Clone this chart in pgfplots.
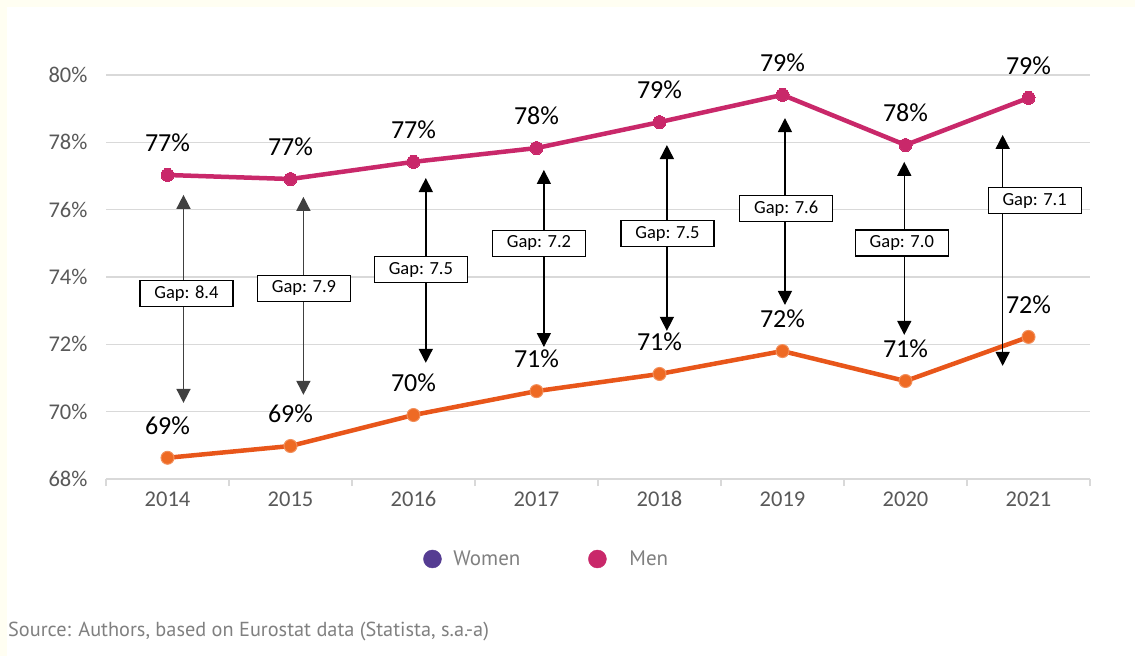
\documentclass[border=0pt]{standalone}
\usepackage{pgfplots}
\pgfplotsset{compat=1.18}
\usepackage{pgfplotstable}
\usetikzlibrary{arrows.meta}
\usepackage{fontspec}
\setmainfont{Carlito}
\newfontfamily\ptsans{PT Sans}
\definecolor{men}{HTML}{C9286A}
\definecolor{women}{HTML}{E8561A}
\definecolor{womenmk}{HTML}{EE6A24}
\definecolor{legw}{HTML}{553C92}
\definecolor{gridc}{HTML}{D9D9D9}
\definecolor{tickc}{HTML}{595959}
\definecolor{srcc}{HTML}{808080}
\definecolor{cream}{HTML}{FFFEF2}
\definecolor{darkarrow}{HTML}{404040}

\pgfplotstableread{
x men women
0 77.03 68.63
1 76.91 68.98
2 77.42 69.90
3 77.83 70.61
4 78.60 71.12
5 79.41 71.80
6 77.92 70.91
7 79.32 72.22
}\datatable

\tikzset{
  gaparrow/.style={{Triangle[width=14pt,length=14pt]}-{Triangle[width=14pt,length=14pt]}, line width=1.5pt},
  gapbox/.style={draw=black, line width=1.2pt, fill=white, minimum width=93pt, minimum height=26pt, inner sep=0pt, font=\fontsize{18.5}{20}\selectfont}
}

\begin{document}
\begin{tikzpicture}
\fill[cream] (0pt,0pt) rectangle (1135pt,656pt);
\fill[white] (7pt,0pt) rectangle (1135pt,649pt);
\useasboundingbox (0pt,0pt) rectangle (1135pt,656pt);
\coordinate (A) at (106pt,177pt);
\begin{axis}[
  at={(A)}, anchor=south west, scale only axis,
  width=984pt, height=404pt,
  xmin=-0.5, xmax=7.5, ymin=68, ymax=80, clip=false,
  axis x line*=bottom, axis y line*=left,
  y axis line style={draw=none},
  x axis line style={draw=gridc, line width=1.5pt},
  xtick={0,1,2,3,4,5,6,7},
  xticklabels={2014,2015,2016,2017,2018,2019,2020,2021},
  minor xtick={-0.5,0.5,1.5,2.5,3.5,4.5,5.5,6.5,7.5},
  major tick length=0pt, minor tick length=7pt, tick align=outside,
  minor tick style={draw=gridc, line width=1.5pt},
  ytick={68,70,72,74,76,78,80},
  yticklabels={68\%,70\%,72\%,74\%,76\%,78\%,80\%},
  ymajorgrids, grid style={draw=gridc, line width=1.5pt},
  /pgf/number format/assume math mode=true,
  xticklabel style={font=\fontsize{22.5}{26}\selectfont, text=tickc, yshift=-9pt},
  yticklabel style={font=\fontsize{22.5}{26}\selectfont, text=tickc, xshift=-15pt},
  legend style={at={(0.448,-0.198)}, anchor=center, draw=none, fill=none,
    legend columns=2, font=\ptsans\fontsize{21}{25}\selectfont, text=srcc,
    /tikz/every odd column/.append style={column sep=10pt},
    /tikz/every even column/.append style={column sep=66pt}},
  legend cell align=left,
]
\addlegendimage{only marks, mark=*, mark size=9pt, color=legw}
\addlegendentry{Women}
\addlegendimage{only marks, mark=*, mark size=9pt, color=men}
\addlegendentry{\hspace{11pt}Men}

\addplot[men, line width=4.5pt, mark=*, mark size=6.5pt, mark options={line width=0pt, fill=men},
  point meta=y, nodes near coords={\pgfmathprintnumber[fixed,precision=0]{\pgfplotspointmeta}\%},
  every node near coord/.append style={anchor=center, yshift=32pt, text=black, font=\fontsize{26}{28}\selectfont},
  forget plot] table[x=x,y=men]{\datatable};
\addplot[women, line width=4.5pt, mark=*, mark size=6.5pt, mark options={line width=1pt, fill=womenmk, draw=womenmk!75!white},
  point meta=y, nodes near coords={\pgfmathprintnumber[fixed,precision=0]{\pgfplotspointmeta}\%},
  every node near coord/.append style={anchor=center, yshift=32pt, text=black, font=\fontsize{26}{28}\selectfont},
  forget plot] table[x=x,y=women]{\datatable};

\draw[gaparrow, darkarrow] (axis cs:0.13,76.44) -- (axis cs:0.13,70.26);
\draw[gaparrow, darkarrow] (axis cs:1.105,76.38) -- (axis cs:1.105,70.50);
\draw[gaparrow, black] (axis cs:2.10,76.94) -- (axis cs:2.10,71.45);
\draw[gaparrow, black] (axis cs:3.06,77.18) -- (axis cs:3.06,71.92);
\draw[gaparrow, black] (axis cs:4.06,77.92) -- (axis cs:4.06,72.40);
\draw[gaparrow, black] (axis cs:5.02,78.72) -- (axis cs:5.02,73.17);
\draw[gaparrow, black] (axis cs:5.99,77.42) -- (axis cs:5.99,72.28);
\draw[gaparrow, black] (axis cs:6.79,78.22) -- (axis cs:6.79,71.36);

\node[gapbox] at (axis cs:0.154,73.50) {Gap: 8.4};
\node[gapbox] at (axis cs:1.11,73.67) {Gap: 7.9};
\node[gapbox] at (axis cs:2.06,74.22) {Gap: 7.5};
\node[gapbox] at (axis cs:3.02,75.00) {Gap: 7.2};
\node[gapbox] at (axis cs:4.065,75.29) {Gap: 7.5};
\node[gapbox] at (axis cs:5.03,76.04) {Gap: 7.6};
\node[gapbox] at (axis cs:5.97,75.01) {Gap: 7.0};
\node[gapbox] at (axis cs:7.05,76.27) {Gap: 7.1};
\end{axis}
\node[anchor=west, font=\ptsans\fontsize{20.3}{22}\selectfont, text=srcc, inner sep=0pt] at (8pt,24pt) {Source: Authors, based on Eurostat data (Statista, s.a.-a)};
\end{tikzpicture}
\end{document}
